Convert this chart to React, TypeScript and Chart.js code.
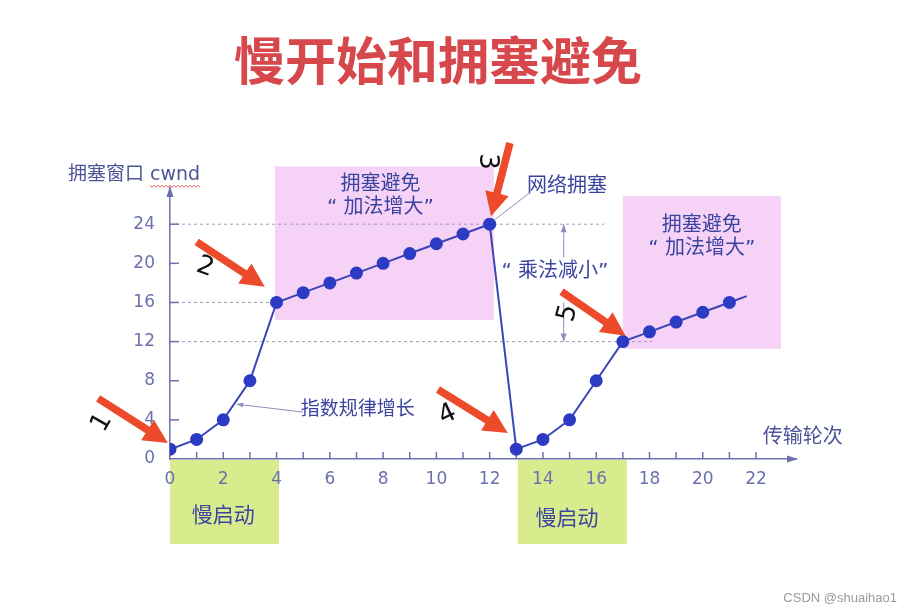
import React, { useEffect, useRef } from 'react';
import { Chart, registerables } from 'chart.js';

Chart.register(...registerables);

// ---- data ----
const rounds = [0, 1, 2, 3, 4, 5, 6, 7, 8, 9, 10, 11, 12, 13, 14, 15, 16, 17, 18, 19, 20, 21, 21.65];
const cwnd = [1, 2, 4, 8, 16, 17, 18, 19, 20, 21, 22, 23, 24, 1, 2, 4, 8, 12, 13, 14, 15, 16, 16.65];
const xTickValues = [0, 2, 4, 6, 8, 10, 12, 14, 16, 18, 20, 22];
const yTickValues = [0, 4, 8, 12, 16, 20, 24];

// annotation regions (data units): [x0, x1, y0, y1]
const pinkBoxes = [
  [3.94, 12.16, 14.2, 29.9],
  [17.0, 22.93, 11.26, 26.9],
];
const greenBoxes = [
  [0, 4.09, -8.7, -0.1],
  [13.06, 17.15, -8.7, -0.1],
];
// dashed reference lines: [y, xEnd]
const refLines = [
  [24, 16.3],
  [16, 4],
  [12, 18.1],
];
// red arrows: [tailX, tailY, tipX, tipY, label, labelX, labelY, labelRotationDeg]
const redArrows: [number, number, number, number, string, number, number, number][] = [
  [-2.7, 6.2, -0.08, 1.64, '1', -2.55, 3.7, -60],
  [1.0, 22.2, 3.56, 17.6, '2', 1.32, 19.6, 20],
  [12.76, 32.3, 12.05, 24.8, '3', 11.9, 30.4, 90],
  [10.06, 7.1, 12.68, 2.66, '4', 10.42, 4.5, -25],
  [14.7, 17.1, 17.1, 12.6, '5', 14.95, 14.9, -75],
];
// text labels: [text, x, y, size]
const labels: [string, number, number, number][] = [
  ['拥塞避免', 7.9, 28.05, 20],
  ['“ 加法增大”', 7.9, 25.7, 20],
  ['拥塞避免', 19.96, 23.85, 20],
  ['“ 加法增大”', 19.96, 21.5, 20],
  ['网络拥塞', 14.9, 27.8, 20],
  ['“ 乘法减小”', 14.45, 19.1, 20],
  ['指数规律增长', 7.05, 5.0, 19],
  ['慢启动', 2.0, -5.9, 21],
  ['慢启动', 14.9, -6.2, 21],
];

const X_MIN = 0;
const X_MAX = 23.5;
const Y_MIN = 0;
const Y_MAX = 27.7;

const CJK = '"DejaVu Sans", "Noto Sans CJK SC", sans-serif';
const TEXT_BLUE = '#3b449f';
const AXIS_COLOR = '#6b71ad';
const THIN = '#8a8fbc';

const annot = {
  id: 'annot',
  beforeDraw(chart: any) {
    const { ctx } = chart;
    const xs = chart.scales.x;
    const ys = chart.scales.y;
    ctx.save();
    ctx.fillStyle = '#f6d2f6';
    pinkBoxes.forEach(([x0, x1, y0, y1]) => {
      const a = xs.getPixelForValue(x0), b = xs.getPixelForValue(x1);
      const c = ys.getPixelForValue(y1), d = ys.getPixelForValue(y0);
      ctx.fillRect(a, c, b - a, d - c);
    });
    ctx.fillStyle = '#d8ec8e';
    greenBoxes.forEach(([x0, x1, y0, y1]) => {
      const a = xs.getPixelForValue(x0), b = xs.getPixelForValue(x1);
      const c = ys.getPixelForValue(y1), d = ys.getPixelForValue(y0);
      ctx.fillRect(a, c, b - a, d - c);
    });
    // title
    ctx.fillStyle = '#d6484b';
    ctx.font = 'bold 51px "Noto Sans CJK SC"';
    ctx.textAlign = 'center';
    ctx.textBaseline = 'middle';
    ctx.fillText('慢开始和拥塞避免', 438, 61);
    ctx.restore();
  },
  beforeDatasetsDraw(chart: any) {
    const { ctx, chartArea } = chart;
    const xs = chart.scales.x;
    const ys = chart.scales.y;
    ctx.save();
    // dashed reference lines
    ctx.strokeStyle = '#9a9ec0';
    ctx.lineWidth = 1;
    ctx.setLineDash([3, 3]);
    refLines.forEach(([y, xe]) => {
      const py = ys.getPixelForValue(y);
      ctx.beginPath();
      ctx.moveTo(chartArea.left, py);
      ctx.lineTo(xs.getPixelForValue(xe), py);
      ctx.stroke();
    });
    ctx.setLineDash([]);
    // y tick marks (inside)
    ctx.strokeStyle = AXIS_COLOR;
    ctx.lineWidth = 1.5;
    yTickValues.forEach((v) => {
      if (v === 0) return;
      const py = ys.getPixelForValue(v);
      ctx.beginPath();
      ctx.moveTo(chartArea.left, py);
      ctx.lineTo(chartArea.left + 9, py);
      ctx.stroke();
    });
    // x tick marks (every round, inside)
    for (let r = 1; r <= 22; r++) {
      const px = xs.getPixelForValue(r);
      ctx.beginPath();
      ctx.moveTo(px, chartArea.bottom);
      ctx.lineTo(px, chartArea.bottom - 7);
      ctx.stroke();
    }
    // axis arrows
    ctx.fillStyle = AXIS_COLOR;
    const ax = chartArea.right, ay = chartArea.bottom;
    ctx.beginPath();
    ctx.moveTo(ax + 2, ay);
    ctx.lineTo(ax - 9, ay - 3.5);
    ctx.lineTo(ax - 9, ay + 3.5);
    ctx.closePath();
    ctx.fill();
    const bx = chartArea.left, by = chartArea.top;
    ctx.beginPath();
    ctx.moveTo(bx, by - 2);
    ctx.lineTo(bx - 3.5, by + 9);
    ctx.lineTo(bx + 3.5, by + 9);
    ctx.closePath();
    ctx.fill();
    ctx.restore();
  },
  afterDraw(chart: any) {
    const { ctx } = chart;
    const xs = chart.scales.x;
    const ys = chart.scales.y;
    const P = (x: number, y: number) => [xs.getPixelForValue(x), ys.getPixelForValue(y)];
    ctx.save();

    // axis titles
    ctx.fillStyle = '#4d5498';
    ctx.font = `19px ${CJK}`;
    ctx.textAlign = 'left';
    ctx.textBaseline = 'middle';
    const [tx, ty] = P(-3.83, 29.0);
    const pre = '拥塞窗口 ';
    ctx.fillText(pre + 'cwnd', tx, ty);
    const w0 = ctx.measureText(pre).width;
    const w1 = ctx.measureText('cwnd').width;
    // wavy underline
    ctx.strokeStyle = '#e05050';
    ctx.lineWidth = 1;
    ctx.beginPath();
    let up = true;
    for (let x = tx + w0; x <= tx + w0 + w1; x += 2) {
      const yy = ty + 10 + (up ? 0 : 2);
      if (x === tx + w0) ctx.moveTo(x, yy); else ctx.lineTo(x, yy);
      up = !up;
    }
    ctx.stroke();

    ctx.fillStyle = '#4d5498';
    ctx.font = `20px ${CJK}`;
    const [lx, ly] = P(22.25, 2.15);
    ctx.fillText('传输轮次', lx, ly);

    // text labels
    ctx.fillStyle = TEXT_BLUE;
    ctx.textAlign = 'center';
    labels.forEach(([t, x, y, s]) => {
      ctx.font = `${s}px ${CJK}`;
      const [px, py] = P(x, y);
      ctx.fillText(t, px, py);
    });

    // thin pointer lines
    ctx.strokeStyle = THIN;
    ctx.fillStyle = THIN;
    ctx.lineWidth = 1;
    let [a, b] = P(12.16, 24.4);
    let [c, d] = P(13.5, 27.2);
    ctx.beginPath(); ctx.moveTo(a, b); ctx.lineTo(c, d); ctx.stroke();
    [a, b] = P(4.99, 4.8);
    [c, d] = P(2.5, 5.6);
    ctx.beginPath(); ctx.moveTo(a, b); ctx.lineTo(c, d); ctx.stroke();
    const ang0 = Math.atan2(d - b, c - a);
    ctx.beginPath();
    ctx.moveTo(c, d);
    ctx.lineTo(c - 7 * Math.cos(ang0 - 0.35), d - 7 * Math.sin(ang0 - 0.35));
    ctx.lineTo(c - 7 * Math.cos(ang0 + 0.35), d - 7 * Math.sin(ang0 + 0.35));
    ctx.closePath(); ctx.fill();

    // double arrow (multiplicative decrease)
    const vx = xs.getPixelForValue(14.78);
    const segs = [[20.6, 24], [16.0, 12]];
    segs.forEach(([from, to]) => {
      const p1 = ys.getPixelForValue(from), p2 = ys.getPixelForValue(to);
      ctx.beginPath(); ctx.moveTo(vx, p1); ctx.lineTo(vx, p2); ctx.stroke();
      const dir = p2 < p1 ? 1 : -1;
      ctx.beginPath();
      ctx.moveTo(vx, p2);
      ctx.lineTo(vx - 3, p2 + dir * 8);
      ctx.lineTo(vx + 3, p2 + dir * 8);
      ctx.closePath(); ctx.fill();
    });

    // red arrows + handwritten numbers
    redArrows.forEach(([x1, y1, x2, y2, lab, nx, ny, rot]) => {
      const [p1x, p1y] = P(x1, y1);
      const [p2x, p2y] = P(x2, y2);
      const ang = Math.atan2(p2y - p1y, p2x - p1x);
      const len = Math.hypot(p2x - p1x, p2y - p1y);
      ctx.save();
      ctx.translate(p1x, p1y);
      ctx.rotate(ang);
      ctx.fillStyle = '#ec4a2b';
      const sw = 3.8, hl = 24, hw = 12;
      ctx.beginPath();
      ctx.moveTo(0, -sw);
      ctx.lineTo(len - hl, -sw);
      ctx.lineTo(len - hl, -hw);
      ctx.lineTo(len, 0);
      ctx.lineTo(len - hl, hw);
      ctx.lineTo(len - hl, sw);
      ctx.lineTo(0, sw);
      ctx.closePath();
      ctx.fill();
      ctx.restore();

      const [qx, qy] = P(nx, ny);
      ctx.save();
      ctx.translate(qx, qy);
      ctx.rotate((rot * Math.PI) / 180);
      ctx.fillStyle = '#111';
      ctx.font = '26px "DejaVu Sans"';
      ctx.textAlign = 'center';
      ctx.textBaseline = 'middle';
      ctx.fillText(lab, 0, 0);
      ctx.restore();
    });

    // watermark
    ctx.fillStyle = '#9a9a9a';
    ctx.font = '13px "Liberation Sans"';
    ctx.textAlign = 'right';
    ctx.fillText('CSDN @shuaihao1', 897, 598);
    ctx.restore();
  },
};

export default function App() {
  const ref = useRef<HTMLCanvasElement | null>(null);
  useEffect(() => {
    if (!ref.current) return;
    const chart = new Chart(ref.current, {
      type: 'line',
      data: {
        datasets: [
          {
            data: rounds.map((r, i) => ({ x: r, y: cwnd[i] })),
            borderColor: '#3a46b8',
            borderWidth: 2,
            pointBackgroundColor: '#2c3bc4',
            pointBorderColor: '#2c3bc4',
            pointRadius: rounds.map((r) => (Number.isInteger(r) ? 5.5 : 0)),
            tension: 0,
          },
        ],
      },
      options: {
        responsive: false,
        animation: false,
        events: [],
        layout: { padding: { left: 0, top: 188, right: 115, bottom: 0 } },
        plugins: {
          legend: { display: false },
          tooltip: { enabled: false },
          title: { display: false },
        },
        scales: {
          x: {
            type: 'linear',
            min: X_MIN,
            max: X_MAX,
            afterBuildTicks: (s: any) => {
              s.ticks = xTickValues.map((v) => ({ value: v }));
            },
            afterFit: (s: any) => {
              s.height = 156;
            },
            ticks: {
              autoSkip: false,
              maxRotation: 0,
              padding: 10,
              color: AXIS_COLOR,
              font: { family: '"DejaVu Sans"', size: 17 },
              callback: (v: any) => String(v),
            },
            grid: { display: true, drawOnChartArea: false, drawTicks: false },
            border: { display: true, color: AXIS_COLOR, width: 1.5 },
          },
          y: {
            type: 'linear',
            min: Y_MIN,
            max: Y_MAX,
            afterBuildTicks: (s: any) => {
              s.ticks = yTickValues.map((v) => ({ value: v }));
            },
            afterFit: (s: any) => {
              s.width = 170;
            },
            ticks: {
              autoSkip: false,
              padding: 15,
              color: AXIS_COLOR,
              font: { family: '"DejaVu Sans"', size: 17 },
              callback: (v: any) => String(v),
            },
            grid: { display: true, drawOnChartArea: false, drawTicks: false },
            border: { display: true, color: AXIS_COLOR, width: 1.5 },
          },
        },
      },
      plugins: [annot],
    } as any);
    return () => chart.destroy();
  }, []);
  return (
    <div style={{ position: 'fixed', left: 0, top: 0, width: 911, height: 615, background: '#fff' }}>
      <canvas ref={ref} width={911} height={615} style={{ display: 'block' }} />
    </div>
  );
}
